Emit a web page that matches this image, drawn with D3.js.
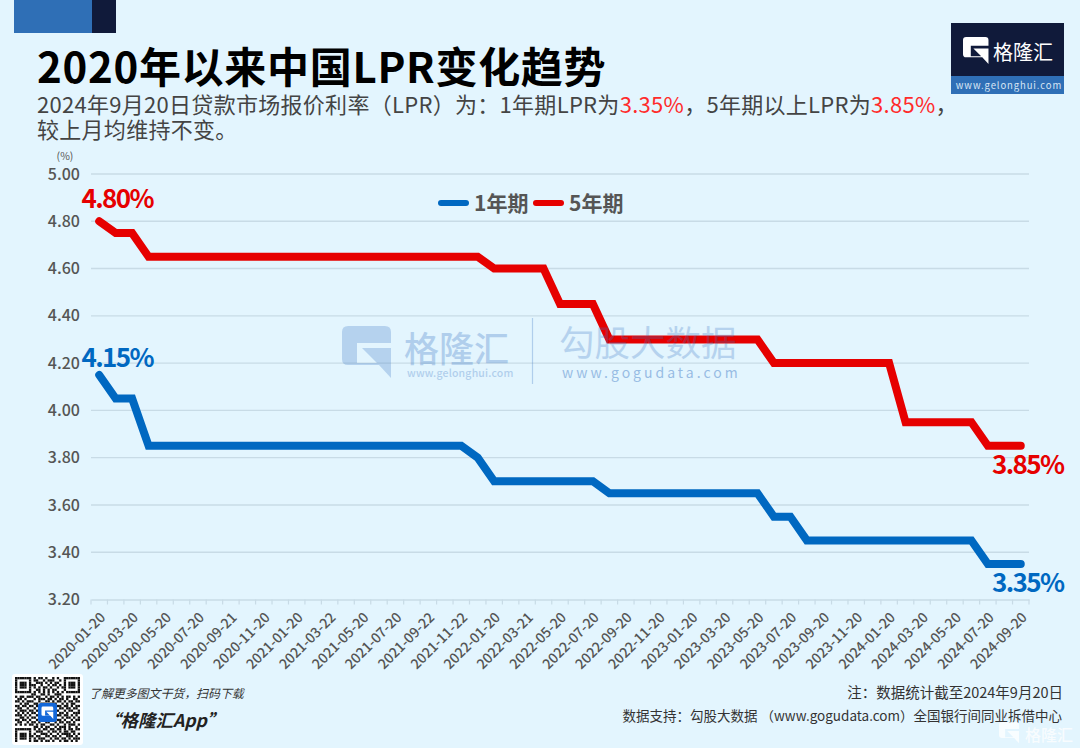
<!DOCTYPE html>
<html lang="zh">
<head>
<meta charset="utf-8">
<script src="https://cdn.jsdelivr.net/npm/d3@7"></script>
<style>
  html, body { margin: 0; padding: 0; background: #e3f5fe; }
  svg { display: block; }
  text { font-family: "Noto Sans CJK SC", "Noto Sans", sans-serif; }
</style>
</head>
<body>
<div class="app"></div>
<script>
const dates = [
  '2020-01-20','2020-02-20','2020-03-20','2020-04-20','2020-05-20','2020-06-22','2020-07-20','2020-08-20','2020-09-21','2020-10-20','2020-11-20','2020-12-21',
  '2021-01-20','2021-02-20','2021-03-22','2021-04-20','2021-05-20','2021-06-21','2021-07-20','2021-08-20','2021-09-22','2021-10-20','2021-11-22','2021-12-20',
  '2022-01-20','2022-02-21','2022-03-21','2022-04-20','2022-05-20','2022-06-20','2022-07-20','2022-08-22','2022-09-20','2022-10-20','2022-11-20','2022-12-20',
  '2023-01-20','2023-02-20','2023-03-20','2023-04-20','2023-05-20','2023-06-20','2023-07-20','2023-08-21','2023-09-20','2023-10-20','2023-11-20','2023-12-20',
  '2024-01-20','2024-02-20','2024-03-20','2024-04-22','2024-05-20','2024-06-20','2024-07-20','2024-08-20','2024-09-20'
]
const oneYear = [
  4.15,4.05,4.05,3.85,3.85,3.85,3.85,3.85,3.85,3.85,3.85,3.85,
  3.85,3.85,3.85,3.85,3.85,3.85,3.85,3.85,3.85,3.85,3.85,3.80,
  3.70,3.70,3.70,3.70,3.70,3.70,3.70,3.65,3.65,3.65,3.65,3.65,
  3.65,3.65,3.65,3.65,3.65,3.55,3.55,3.45,3.45,3.45,3.45,3.45,
  3.45,3.45,3.45,3.45,3.45,3.45,3.35,3.35,3.35
]
const fiveYear = [
  4.80,4.75,4.75,4.65,4.65,4.65,4.65,4.65,4.65,4.65,4.65,4.65,
  4.65,4.65,4.65,4.65,4.65,4.65,4.65,4.65,4.65,4.65,4.65,4.65,
  4.60,4.60,4.60,4.60,4.45,4.45,4.45,4.30,4.30,4.30,4.30,4.30,
  4.30,4.30,4.30,4.30,4.30,4.20,4.20,4.20,4.20,4.20,4.20,4.20,
  4.20,3.95,3.95,3.95,3.95,3.95,3.85,3.85,3.85
]
const yTicks = [5.0, 4.8, 4.6, 4.4, 4.2, 4.0, 3.8, 3.6, 3.4, 3.2]
const seriesNames = ['1年期', '5年期']

const blue = '#0068c1'
const red = '#e60000'
const labelGrey = '#555'
const gridColor = '#c8dbe6'

const svg = d3.select('.app').append('svg').attr('width', 1080).attr('height', 748)
svg.append('rect').attr('width', 1080).attr('height', 748).attr('fill', '#e3f5fe')

// header blocks
svg.append('rect').attr('x', 14).attr('y', 0).attr('width', 78).attr('height', 33).attr('fill', '#2f6fb6')
svg.append('rect').attr('x', 92).attr('y', 0).attr('width', 24).attr('height', 33).attr('fill', '#101a3a')

svg.append('text').attr('x', 37).attr('y', 83)
  .attr('font-size', 42).attr('font-weight', 700).attr('letter-spacing', 0.7).attr('fill', '#000')
  .text('2020年以来中国LPR变化趋势')

const sub = svg.append('text').attr('x', 37).attr('y', 113)
  .attr('font-size', 22).attr('letter-spacing', 0.29).attr('fill', '#444')
sub.append('tspan').text('2024年9月20日贷款市场报价利率（LPR）为：1年期LPR为')
sub.append('tspan').attr('fill', '#ff2b2b').text('3.35%')
sub.append('tspan').text('，5年期以上LPR为')
sub.append('tspan').attr('fill', '#ff2b2b').text('3.85%')
sub.append('tspan').text('，')
svg.append('text').attr('x', 37).attr('y', 138)
  .attr('font-size', 22).attr('letter-spacing', 0.29).attr('fill', '#444')
  .text('较上月均维持不变。')

// G mark, drawn in a 49x52 box
const gPath = 'M6 0H43Q49 0 49 6V17H15V37H35L20 22H49V52L37 39H6Q0 39 0 33V6Q0 0 6 0Z'
function drawG(x, y, k, fill, opacity) {
  svg.append('path').attr('d', gPath)
    .attr('transform', `translate(${x},${y}) scale(${k})`)
    .attr('fill', fill).attr('opacity', opacity)
}

// top right logo
svg.append('rect').attr('x', 951).attr('y', 23).attr('width', 113).attr('height', 53).attr('fill', '#101a3a')
svg.append('rect').attr('x', 951).attr('y', 76).attr('width', 113).attr('height', 18).attr('fill', '#2f6fb6')
drawG(963, 37, 0.52, '#fff', 1)
svg.append('text').attr('x', 993).attr('y', 60).attr('font-size', 20).attr('fill', '#fff').text('格隆汇')
svg.append('text').attr('x', 1009).attr('y', 89).attr('text-anchor', 'middle')
  .attr('font-size', 9.5).attr('letter-spacing', 0.9).attr('fill', '#d8e6f5').text('www.gelonghui.com')

// chart
const x = d3.scaleBand().domain(dates).range([91, 1029])
const y = d3.scaleLinear().domain([3.2, 5.0]).range([599.5, 174])
const xc = d => x(d) + x.bandwidth() / 2

const grid = svg.append('g')
grid.selectAll('line').data(yTicks.filter(t => t > 3.2)).join('line')
  .attr('x1', 91).attr('x2', 1029)
  .attr('y1', d => y(d)).attr('y2', d => y(d))
  .attr('stroke', gridColor).attr('stroke-width', 1.4)

const yAxis = svg.append('g').attr('transform', 'translate(91,0)')
  .call(d3.axisLeft(y).tickValues(yTicks).tickSize(0).tickPadding(11).tickFormat(d3.format('.2f')))
yAxis.select('.domain').remove()
yAxis.selectAll('text').attr('font-size', 16).attr('font-weight', 500).attr('fill', labelGrey)
  .style('font-family', '"Noto Sans CJK SC"')

svg.append('text').attr('x', 65).attr('y', 160).attr('text-anchor', 'middle')
  .attr('font-size', 10.5).attr('fill', labelGrey).text('(%)')

// x axis, tick on each band edge, label on every second month
const xAxis = svg.append('g').attr('transform', 'translate(0,599.5)')
  .call(d3.axisBottom(x).tickValues(dates.filter((d, i) => i % 2 === 0)).tickSize(0).tickPadding(0))
xAxis.select('.domain').attr('stroke', gridColor).attr('stroke-width', 1.4)
xAxis.selectAll('text')
  .attr('font-size', 13.8).attr('font-weight', 500).attr('fill', labelGrey)
  .style('font-family', '"Noto Sans CJK SC"')
  .attr('text-anchor', 'end')
  .attr('transform', 'translate(7,19) rotate(-45)')
  .attr('dy', 0).attr('y', 0)
xAxis.selectAll('line.edge').data(dates.concat('end')).join('line')
  .attr('class', 'edge')
  .attr('x1', d => d === 'end' ? 1029 : x(d)).attr('x2', d => d === 'end' ? 1029 : x(d))
  .attr('y1', 0).attr('y2', 5)
  .attr('stroke', gridColor).attr('stroke-width', 1.2)

// lines
const line = d3.line().x((d, i) => xc(dates[i])).y(d => y(d)).curve(d3.curveLinear)
const drawLine = (values, color) => svg.append('path')
  .attr('d', line(values)).attr('fill', 'none')
  .attr('stroke', color).attr('stroke-width', 8)
  .attr('stroke-linejoin', 'miter').attr('stroke-linecap', 'round')
drawLine(oneYear, blue)
drawLine(fiveYear, red)

// value labels at the ends of each line
const endLabel = (values, i, color, dx, dy) => svg.append('text')
  .attr('x', xc(dates[i]) + dx).attr('y', y(values[i]) + dy)
  .attr('text-anchor', 'middle')
  .attr('font-size', 26).attr('font-weight', 700).attr('letter-spacing', -1.6)
  .attr('fill', color).text(values[i].toFixed(2) + '%')
endLabel(fiveYear, 0, red, 18, -13)
endLabel(oneYear, 0, blue, 18, -8)
endLabel(fiveYear, 56, red, 7, 28)
endLabel(oneYear, 56, blue, 7, 28)

// legend
const legend = svg.append('g')
seriesNames.forEach((name, i) => {
  const lx = 441 + i * 95
  legend.append('line').attr('x1', lx).attr('x2', lx + 25).attr('y1', 203).attr('y2', 203)
    .attr('stroke', i === 0 ? blue : red).attr('stroke-width', 6).attr('stroke-linecap', 'round')
  legend.append('text').attr('x', lx + 33).attr('y', 211)
    .attr('font-size', 21).attr('font-weight', 700).attr('fill', labelGrey).text(name)
})

// watermark, sits over the lines
const wm = '#3c78c4'
drawG(342, 326, 1, wm, 0.27)
const wmText = (t, tx, ty, size, spacing, op, weight) => svg.append('text').attr('x', tx).attr('y', ty)
  .attr('font-size', size).attr('font-weight', weight).attr('letter-spacing', spacing)
  .attr('fill', wm).attr('opacity', op).text(t)
wmText('格隆汇', 404, 362, 35, 0, 0.3, 500)
wmText('www.gelonghui.com', 407, 377, 10.5, 0.2, 0.3, 500)
svg.append('line').attr('x1', 532.5).attr('x2', 532.5).attr('y1', 318).attr('y2', 384)
  .attr('stroke', wm).attr('stroke-width', 1.2).attr('opacity', 0.3)
wmText('勾股大数据', 559, 356, 35.5, 0, 0.27, 400)
wmText('www.gogudata.com', 562, 378, 14, 3.0, 0.45, 400)

// footer, left
svg.append('rect').attr('x', 12).attr('y', 674).attr('width', 71).attr('height', 71).attr('rx', 3).attr('fill', '#fff')
const qrRows = [
  '1111111010110100101001111111','1000001011001011100101000001','1011101001110101011001011101',
  '1011101110010010110101011101','1011101010101101001011011101','1000001001101010110001000001',
  '1111111010101010101010111111','0000000110011010011100000000','1011011101100101101010110101',
  '0110100010111011010110100110','1101011100100110101101011011','0010110011011001110010101100',
  '1101101101000000001101101011','0110010010000000000110110110','1011101101000000001001011001',
  '0101010110000000000110100111','1110101001000000001101101010','0011010110000000000010110101',
  '1101101001011101101101001011','0110010110100110010110110100','1010101101011001101001011101',
  '0000000011010110010111010010','1111111010101101101101011011','1000001001110010110101101100',
  '1011101010011101001011110101','1011101101100110110100111010','1011101010111001011011010111',
  '1000001011010110100101101010'
]
const qr = svg.append('g')
const qrX = d3.scaleBand().domain(d3.range(28)).range([15, 80])
const qrY = d3.scaleBand().domain(d3.range(28)).range([677, 742])
qrRows.forEach((row, r) => {
  qr.selectAll(null).data(row.split('').map((b, c) => ({ b, c })).filter(d => d.b === '1')).join('rect')
    .attr('x', d => qrX(d.c)).attr('y', qrY(r))
    .attr('width', qrX.bandwidth()).attr('height', qrY.bandwidth()).attr('fill', '#111')
})
svg.append('rect').attr('x', 38).attr('y', 703).attr('width', 19).attr('height', 19).attr('rx', 3).attr('fill', '#1467d8')
drawG(41.5, 706.5, 0.24, '#fff', 1)

svg.append('text').attr('x', 89).attr('y', 698).attr('font-size', 12).attr('font-style', 'italic')
  .attr('letter-spacing', -0.1).attr('fill', '#333').text('了解更多图文干货，扫码下载')
svg.append('text').attr('x', 103).attr('y', 727).attr('font-size', 17.5).attr('font-weight', 700)
  .attr('font-style', 'italic').attr('fill', '#222').text('“格隆汇App”')

// footer, right
svg.append('text').attr('x', 1063).attr('y', 698).attr('text-anchor', 'end')
  .attr('font-size', 14.5).attr('fill', '#333').text('注：数据统计截至2024年9月20日')
svg.append('text').attr('x', 1062).attr('y', 721).attr('text-anchor', 'end')
  .attr('font-size', 13.5).attr('fill', '#333').text('数据支持：勾股大数据 （www.gogudata.com）全国银行间同业拆借中心')

// corner watermark
drawG(999, 722, 0.41, '#fff', 0.75)
svg.append('text').attr('x', 1025).attr('y', 741).attr('font-size', 16).attr('font-weight', 500).attr('fill', '#fff')
  .attr('opacity', 0.75).text('格隆汇')
</script>
</body>
</html>
